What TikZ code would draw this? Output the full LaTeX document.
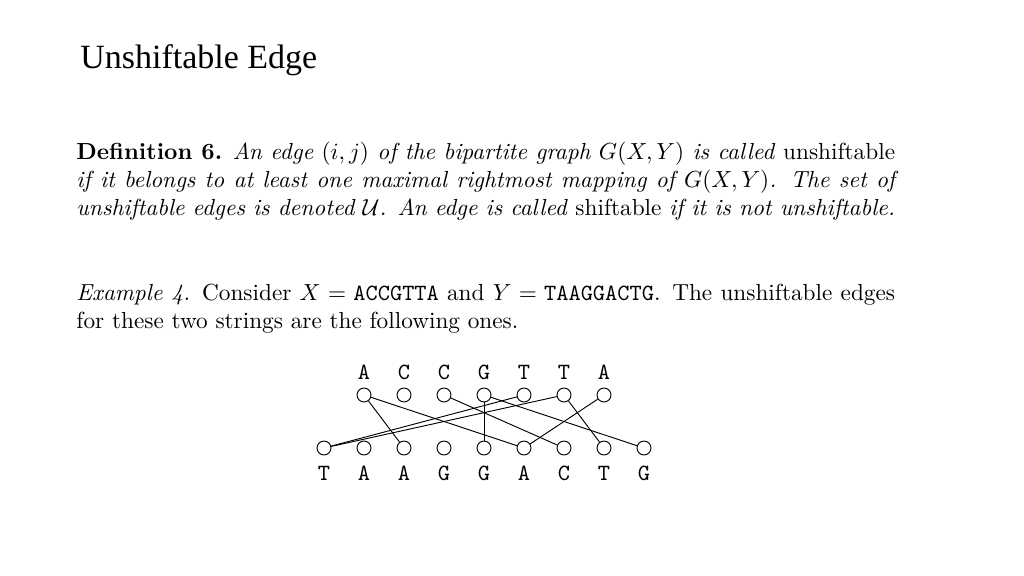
\documentclass[tikz,border=0pt]{standalone}
\usepackage{fontspec}
\usepackage{amsmath}
\newfontfamily\titlefont{Liberation Serif}
\begin{document}
\begin{tikzpicture}[x=0.43pt,y=-0.43pt,
  v/.style={circle,draw,inner sep=0pt,minimum size=6pt},
  lab/.style={font=\ttfamily},
  para/.style={anchor=north west,inner sep=0pt,text width=352pt,align=justify}]
\useasboundingbox (0,0) rectangle (1024,576);
\node[anchor=west,inner sep=0pt,font=\titlefont\fontsize{14.6}{17}\selectfont] (title) at (80,60) {Unshiftable Edge};
\node[para] (def) at (76,142) {\textbf{Definition 6.} \textit{An edge $(i,j)$ of the bipartite graph $G(X,Y)$ is called} unshiftable \textit{if it belongs to at least one maximal rightmost mapping of $G(X,Y)$. The set of unshiftable edges is denoted~$\mathcal{U}$. An edge is called} shiftable \textit{if it is not unshiftable.}};
\node[para] (ex) at (76,284) {\textit{Example 4.} Consider $X=\texttt{ACCGTTA}$ and $Y=\texttt{TAAGGACTG}$. The unshiftable edges for these two strings are the following ones.};
\foreach \l [count=\i] in {A,C,C,G,T,T,A}{
  \node[v] (t\i) at ({324+40*\i},395) {};
  \node[lab] (tl\i) at ({324+40*\i},372) {\l};
}
\foreach \l [count=\i] in {T,A,A,G,G,A,C,T,G}{
  \node[v] (b\i) at ({324+40*(\i-1)},448) {};
  \node[lab] (bl\i) at ({324+40*(\i-1)},473) {\l};
}
\draw (t1)--(b3); \draw (t1)--(b6); \draw (t3)--(b7);
\draw (t4)--(b5); \draw (t4)--(b9); \draw (t5)--(b1);
\draw (t6)--(b1); \draw (t6)--(b8); \draw (t7)--(b6);
\end{tikzpicture}
\end{document}
